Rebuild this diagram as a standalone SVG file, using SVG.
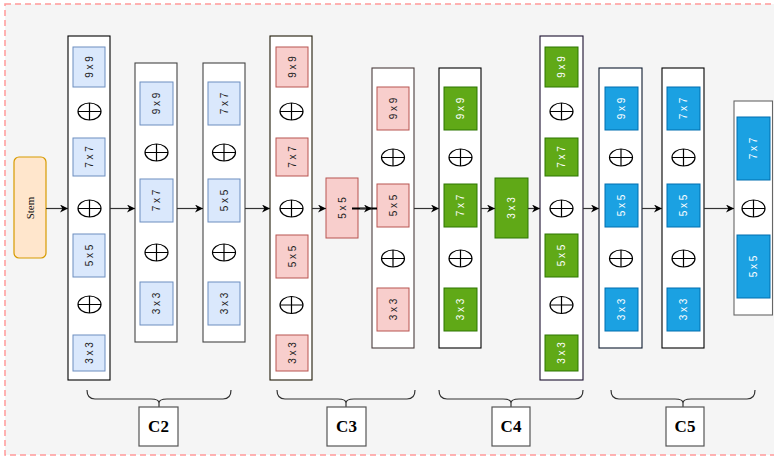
<svg xmlns="http://www.w3.org/2000/svg" width="774" height="457" viewBox="0 0 774 457">
<defs>
<style>
.col{fill:#fff;stroke-width:1.1}
.lb{fill:#dae8fc;stroke:#6c8ebf}
.pk{fill:#f8cecc;stroke:#b85450}
.gr{fill:#60a917;stroke:#2d7600}
.bl{fill:#1ba1e2;stroke:#006eaf}
.t{font-family:"Liberation Sans",Arial,sans-serif;font-size:10px;text-anchor:middle;dominant-baseline:central;fill:#222}
.tw{fill:#fff}
.sum{fill:#fff;stroke:#000;stroke-width:1.2}
.ar{stroke:#333;stroke-width:1.2;fill:none;marker-end:url(#ah)}
.br{fill:none;stroke:#333;stroke-width:1.2}
.cb{fill:#fff;stroke:#555;stroke-width:1.2}
.ct{font-family:"Liberation Serif","Times New Roman",serif;font-size:17px;font-weight:bold;text-anchor:middle;dominant-baseline:central;fill:#000}
</style>
<marker id="ah" viewBox="0 0 10 10" refX="10" refY="5" markerWidth="9" markerHeight="8" markerUnits="userSpaceOnUse" orient="auto">
<path d="M0,0 L10,5 L0,10 L3,5 z" fill="#000"/>
</marker>
<g id="sumsym">
<ellipse cx="0" cy="0" rx="11.5" ry="8.5" class="sum"/>
<path d="M-11.5,0 H11.5 M0,-8.5 V8.5" stroke="#000" stroke-width="1.2"/>
</g>
</defs>
<rect x="5" y="4" width="775" height="451" fill="#f5f5f5" stroke="#ff9999" stroke-width="1.5" stroke-dasharray="6 4"/>

<g id="stem">
<rect x="14" y="157" width="32" height="101" rx="5" fill="#ffe6cc" stroke="#d79b00" stroke-width="1.2"/>
<text x="30" y="208" transform="rotate(-90 30 208)" style="font-family:'Liberation Serif','Times New Roman',serif;font-size:11px;font-weight:normal;text-anchor:middle;dominant-baseline:central;fill:#111">Stem</text>
</g>

<g id="col1">
<rect x="68" y="36" width="42" height="344" class="col" stroke="#000"/>
<rect x="73" y="47" width="32" height="40" class="lb"/><text class="t" x="89" y="67" transform="rotate(-90 89 67)">9 x 9</text>
<use href="#sumsym" x="89.5" y="111.5"/>
<rect x="73" y="138" width="32" height="38" class="lb"/><text class="t" x="89" y="157" transform="rotate(-90 89 157)">7 x 7</text>
<use href="#sumsym" x="89.5" y="208.5"/>
<rect x="73" y="234" width="32" height="43" class="lb"/><text class="t" x="89" y="255.5" transform="rotate(-90 89 255.5)">5 x 5</text>
<use href="#sumsym" x="89.5" y="304.5"/>
<rect x="73" y="335" width="32" height="36" class="lb"/><text class="t" x="89" y="353" transform="rotate(-90 89 353)">3 x 3</text>
</g>

<g id="col2">
<rect x="135" y="63" width="42" height="279" class="col" stroke="#444"/>
<rect x="140" y="82" width="33" height="43" class="lb"/><text class="t" x="156.5" y="103.5" transform="rotate(-90 156.5 103.5)">9 x 9</text>
<use href="#sumsym" x="156.5" y="152.5"/>
<rect x="140" y="179" width="33" height="43" class="lb"/><text class="t" x="156.5" y="200.5" transform="rotate(-90 156.5 200.5)">7 x 7</text>
<use href="#sumsym" x="156.5" y="252.5"/>
<rect x="140" y="282" width="33" height="43" class="lb"/><text class="t" x="156.5" y="303.5" transform="rotate(-90 156.5 303.5)">3 x 3</text>
</g>

<g id="col3">
<rect x="203" y="63" width="42" height="279" class="col" stroke="#444"/>
<rect x="208" y="82" width="32" height="43" class="lb"/><text class="t" x="224" y="103.5" transform="rotate(-90 224 103.5)">7 x 7</text>
<use href="#sumsym" x="224" y="152.5"/>
<rect x="208" y="179" width="32" height="43" class="lb"/><text class="t" x="224" y="200.5" transform="rotate(-90 224 200.5)">5 x 5</text>
<use href="#sumsym" x="224" y="252.5"/>
<rect x="208" y="282" width="32" height="43" class="lb"/><text class="t" x="224" y="303.5" transform="rotate(-90 224 303.5)">3 x 3</text>
</g>

<g id="col4">
<rect x="270" y="36" width="42" height="344" class="col" stroke="#1f1a08"/>
<rect x="276" y="47" width="32" height="40" class="pk"/><text class="t" x="292" y="67" transform="rotate(-90 292 67)">9 x 9</text>
<use href="#sumsym" x="291.5" y="111.5"/>
<rect x="276" y="138" width="32" height="38" class="pk"/><text class="t" x="292" y="157" transform="rotate(-90 292 157)">7 x 7</text>
<use href="#sumsym" x="291.5" y="208.5"/>
<rect x="276" y="235" width="32" height="43" class="pk"/><text class="t" x="292" y="256.5" transform="rotate(-90 292 256.5)">5 x 5</text>
<use href="#sumsym" x="291.5" y="305"/>
<rect x="276" y="335" width="32" height="36" class="pk"/><text class="t" x="292" y="353" transform="rotate(-90 292 353)">3 x 3</text>
</g>

<g id="p5x5">
<rect x="326" y="178" width="32" height="60" class="pk"/><text class="t" x="342" y="208" transform="rotate(-90 342 208)">5 x 5</text>
</g>

<g id="col5">
<rect x="372" y="68" width="42" height="280" class="col" stroke="#4a3d3d"/>
<rect x="377" y="87" width="32" height="43" class="pk"/><text class="t" x="393" y="108.5" transform="rotate(-90 393 108.5)">9 x 9</text>
<use href="#sumsym" x="393" y="157.5"/>
<rect x="377" y="184" width="32" height="43" class="pk"/><text class="t" x="393" y="205.5" transform="rotate(-90 393 205.5)">5 x 5</text>
<use href="#sumsym" x="393" y="258.5"/>
<rect x="377" y="288" width="32" height="43" class="pk"/><text class="t" x="393" y="309.5" transform="rotate(-90 393 309.5)">3 x 3</text>
</g>

<g id="col6">
<rect x="439" y="68" width="42" height="280" class="col" stroke="#000"/>
<rect x="444" y="87" width="33" height="43" class="gr"/><text class="t tw" x="460.5" y="108.5" transform="rotate(-90 460.5 108.5)">9 x 9</text>
<use href="#sumsym" x="460.5" y="157.5"/>
<rect x="444" y="184" width="33" height="43" class="gr"/><text class="t tw" x="460.5" y="205.5" transform="rotate(-90 460.5 205.5)">7 x 7</text>
<use href="#sumsym" x="460.5" y="258.5"/>
<rect x="444" y="288" width="33" height="43" class="gr"/><text class="t tw" x="460.5" y="309.5" transform="rotate(-90 460.5 309.5)">3 x 3</text>
</g>

<g id="g3x3">
<rect x="495" y="178" width="33" height="60" class="gr"/><text class="t tw" x="511.5" y="208" transform="rotate(-90 511.5 208)">3 x 3</text>
</g>

<g id="col7">
<rect x="540" y="36" width="43" height="344" class="col" stroke="#1a0f2e"/>
<rect x="545" y="47" width="33" height="40" class="gr"/><text class="t tw" x="561.5" y="67" transform="rotate(-90 561.5 67)">9 x 9</text>
<use href="#sumsym" x="561.5" y="111.5"/>
<rect x="545" y="138" width="33" height="38" class="gr"/><text class="t tw" x="561.5" y="157" transform="rotate(-90 561.5 157)">7 x 7</text>
<use href="#sumsym" x="561.5" y="208.5"/>
<rect x="545" y="234" width="33" height="43" class="gr"/><text class="t tw" x="561.5" y="255.5" transform="rotate(-90 561.5 255.5)">5 x 5</text>
<use href="#sumsym" x="561.5" y="305"/>
<rect x="545" y="335" width="33" height="36" class="gr"/><text class="t tw" x="561.5" y="353" transform="rotate(-90 561.5 353)">3 x 3</text>
</g>

<g id="col8">
<rect x="599" y="68" width="43" height="280" class="col" stroke="#0d1a2e"/>
<rect x="605" y="87" width="33" height="43" class="bl"/><text class="t tw" x="621.5" y="108.5" transform="rotate(-90 621.5 108.5)">9 x 9</text>
<use href="#sumsym" x="621" y="157.5"/>
<rect x="605" y="184" width="33" height="43" class="bl"/><text class="t tw" x="621.5" y="205.5" transform="rotate(-90 621.5 205.5)">5 x 5</text>
<use href="#sumsym" x="621" y="258.5"/>
<rect x="605" y="288" width="33" height="43" class="bl"/><text class="t tw" x="621.5" y="309.5" transform="rotate(-90 621.5 309.5)">3 x 3</text>
</g>

<g id="col9">
<rect x="662" y="68" width="42" height="280" class="col" stroke="#000"/>
<rect x="667" y="87" width="33" height="43" class="bl"/><text class="t tw" x="683.5" y="108.5" transform="rotate(-90 683.5 108.5)">7 x 7</text>
<use href="#sumsym" x="683.5" y="157.5"/>
<rect x="667" y="184" width="33" height="43" class="bl"/><text class="t tw" x="683.5" y="205.5" transform="rotate(-90 683.5 205.5)">5 x 5</text>
<use href="#sumsym" x="683.5" y="258.5"/>
<rect x="667" y="288" width="33" height="43" class="bl"/><text class="t tw" x="683.5" y="309.5" transform="rotate(-90 683.5 309.5)">3 x 3</text>
</g>

<g id="col10">
<rect x="734" y="101" width="38.5" height="214" class="col" stroke="#666"/>
<rect x="737" y="117" width="33" height="63" class="bl"/><text class="t tw" x="753.5" y="148.5" transform="rotate(-90 753.5 148.5)">7 x 7</text>
<use href="#sumsym" x="753.5" y="208.5"/>
<rect x="737" y="235" width="33" height="63" class="bl"/><text class="t tw" x="753.5" y="266.5" transform="rotate(-90 753.5 266.5)">5 x 5</text>
</g>

<g id="connectors">
<line x1="46" y1="208.5" x2="68" y2="208.5" class="ar"/>
<line x1="110" y1="208.5" x2="135" y2="208.5" class="ar"/>
<line x1="177" y1="208.5" x2="203" y2="208.5" class="ar"/>
<line x1="245" y1="208.5" x2="270" y2="208.5" class="ar"/>
<line x1="312" y1="208.5" x2="326" y2="208.5" class="ar"/>
<line x1="352" y1="208.5" x2="377" y2="208.5" stroke="#000" stroke-width="2"/>
<line x1="360" y1="208.5" x2="372" y2="208.5" class="ar" stroke="#000"/>
<line x1="414" y1="208.5" x2="439" y2="208.5" class="ar"/>
<line x1="481" y1="208.5" x2="495" y2="208.5" class="ar"/>
<line x1="528" y1="208.5" x2="540" y2="208.5" class="ar"/>
<line x1="583" y1="208.5" x2="599" y2="208.5" class="ar"/>
<line x1="642" y1="208.5" x2="662" y2="208.5" class="ar"/>
<line x1="704" y1="208.5" x2="734" y2="208.5" class="ar"/>
</g>

<g id="C2">
<path class="br" d="M87,390 Q87,399 95,399 H151 Q159,399 159,403 Q159,399 167,399 H223 Q231,399 231,390 M159,403 V407"/>
<rect x="139" y="407" width="39" height="39" class="cb"/>
<text class="ct" x="158.5" y="426.5">C2</text>
</g>
<g id="C3">
<path class="br" d="M277,390 Q277,399 285,399 H338 Q346,399 346,403 Q346,399 354,399 H407 Q415,399 415,390 M346,403 V407"/>
<rect x="327" y="407" width="39" height="39" class="cb"/>
<text class="ct" x="346.5" y="426.5">C3</text>
</g>
<g id="C4">
<path class="br" d="M439,390 Q439,399 447,399 H503 Q511,399 511,403 Q511,399 519,399 H575 Q583,399 583,390 M511,403 V407"/>
<rect x="492" y="407" width="38" height="39" class="cb"/>
<text class="ct" x="511" y="426.5">C4</text>
</g>
<g id="C5">
<path class="br" d="M611,390 Q611,399 619,399 H675 Q683,399 683,403 Q683,399 691,399 H747 Q755,399 755,390 M683,403 V407"/>
<rect x="666" y="407" width="38" height="39" class="cb"/>
<text class="ct" x="685" y="426.5">C5</text>
</g>
</svg>
